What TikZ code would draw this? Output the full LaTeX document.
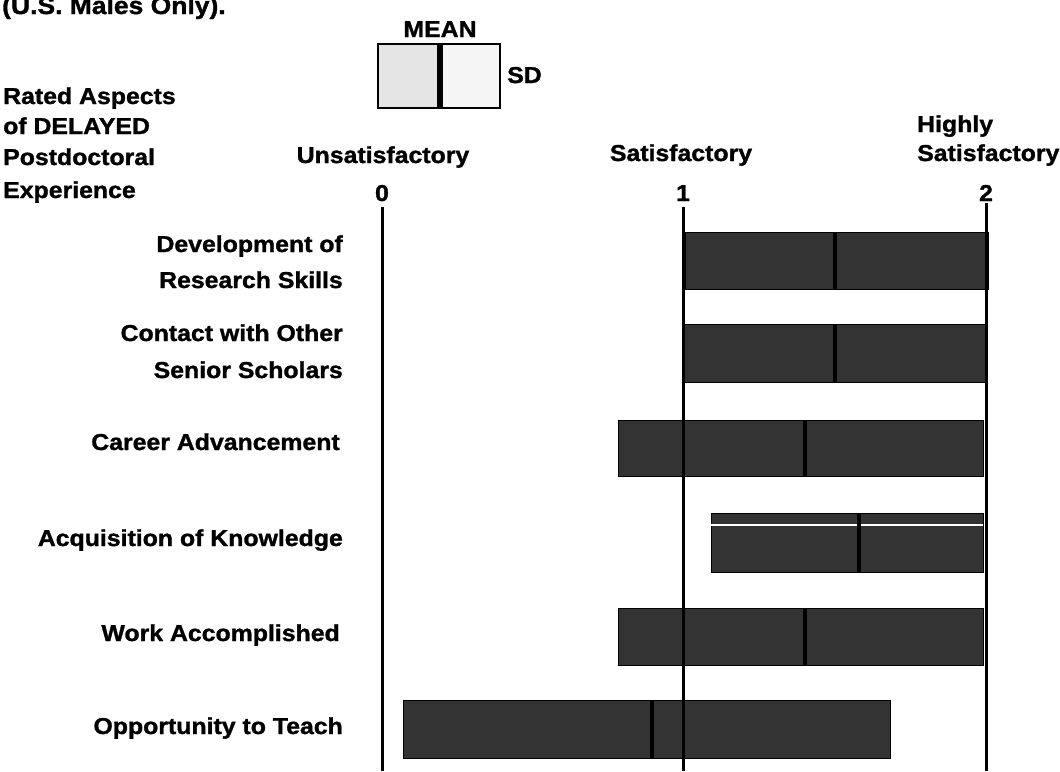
\documentclass[tikz,border=0pt]{standalone}
\usepackage{fontspec}
\setmainfont{Liberation Sans}[FakeStretch=1.08, BoldFeatures={FakeBold=1.3}]
\begin{document}
\begin{tikzpicture}[x=1pt, y=-1pt,
  every node/.style={inner sep=0pt, font=\bfseries\fontsize{23}{27}\selectfont},
  lbl/.style={anchor=base east},
  bar/.style={draw=black, line width=1pt, fill=black!80},
  meanline/.style={line width=4.5pt},
  axis/.style={line width=3pt}]

\useasboundingbox (0,0) rectangle (1060,771);
\clip (0,0) rectangle (1060,771);

% title and key
\node[anchor=base west, font=\bfseries\fontsize{24.5}{29}\selectfont] (title) at(2,14) {(U.S. Males Only).};
\node[anchor=base] (mean) at(440,37) {MEAN};
\fill[black!10] (378,44) rectangle (440,108);
\fill[black!4]  (440,44) rectangle (500,108);
\draw[line width=2pt] (378,44) rectangle (500,108);
\draw[line width=6pt] (mean.south |- 0,44) -- (mean.south |- 0,108);
\node[anchor=base west] (sd) at(507,83) {SD};

\node[anchor=base west] (head1) at(3,104) {Rated Aspects};
\node[anchor=base west] (head2) at(3,134) {of DELAYED};
\node[anchor=base west] (head3) at(3,165) {Postdoctoral};
\node[anchor=base west] (head4) at(3,198) {Experience};

% scale
\node[anchor=base]      (unsat)  at(383,163) {Unsatisfactory};
\node[anchor=base]      (sat)    at(681,161) {Satisfactory};
\node[anchor=base west] (highly) at(917,132) {Highly};
\node[anchor=base west] (hsat)   at(917,161) {Satisfactory};

\node[anchor=base] (zero) at(382,201) {0};
\node[anchor=base] (one)  at(683,201) {1};
\node[anchor=base] (two)  at(986,201) {2};

% bars: mean +- SD
\draw[bar] (685,232) rectangle (988,289);
\draw[meanline] (835,232) -- (835,289);

\draw[bar] (683,324) rectangle (985,382);
\draw[meanline] (835,324) -- (835,382);

\draw[bar] (618,420) rectangle (983,476);
\draw[meanline] (805,420) -- (805,476);

\draw[bar] (711,513) rectangle (983,572);
\draw[white, line width=2pt] (711,525) -- (983,525);
\draw[meanline] (859,513) -- (859,572);

\draw[bar] (618,608) rectangle (983,665);
\draw[meanline] (805,608) -- (805,665);

\draw[bar] (403,700) rectangle (890,758);
\draw[meanline] (652,700) -- (652,758);

\draw[axis] ([yshift=-6pt]zero.south) -- (zero.south |- 0,771);
\draw[axis] ([yshift=-6pt]one.south)  -- (one.south |- 0,771);
\draw[axis] ([yshift=-2pt]two.south)  -- (two.south |- 0,771);

% rated aspects
\node[lbl] (dev1)  at(343,252) {Development of};
\node[lbl] (dev2)  at(343,288) {Research Skills};
\node[lbl] (cont1) at(343,341) {Contact with Other};
\node[lbl] (cont2) at(343,378) {Senior Scholars};
\node[lbl] (career) at(340,450) {Career Advancement};
\node[lbl] (acq)   at(343,546) {Acquisition of Knowledge};
\node[lbl] (work)  at(340,641) {Work Accomplished};
\node[lbl] (teach) at(343,734) {Opportunity to Teach};

\end{tikzpicture}
\end{document}
